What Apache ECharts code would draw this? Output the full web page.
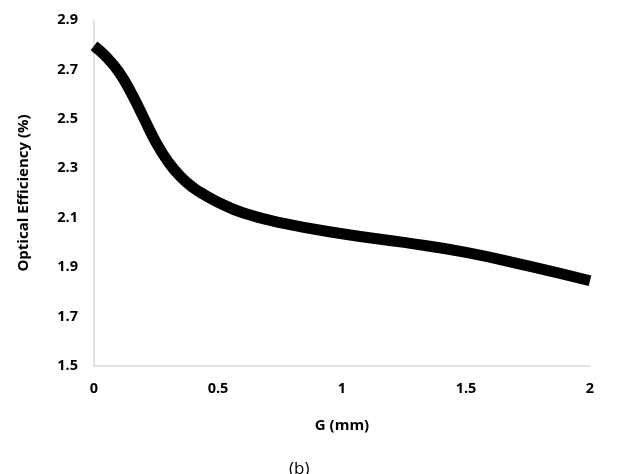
<!DOCTYPE html>
<html>
<head>
<meta charset="utf-8">
<script src="https://cdn.jsdelivr.net/npm/echarts@6/dist/echarts.min.js"></script>
<style>
  html, body { margin: 0; padding: 0; background: #fff; }
  #chart { width: 619px; height: 474px; }
</style>
</head>
<body>
<div id="chart"></div>
<script>
// G (mm) and optical efficiency (%)
var gValues = [0, 0.05, 0.1, 0.15, 0.2, 0.25, 0.3, 0.35, 0.4, 0.45, 0.5, 0.6, 0.75, 1, 1.25, 1.5, 1.75, 2];
var efficiency = [2.795, 2.75, 2.69, 2.605, 2.505, 2.405, 2.325, 2.265, 2.222, 2.19, 2.163, 2.12, 2.08, 2.035, 2.0, 1.96, 1.905, 1.845];
var xTicks = [0, 0.5, 1, 1.5, 2];
var yTicks = [1.5, 1.7, 1.9, 2.1, 2.3, 2.5, 2.7, 2.9];

var points = [];
for (var i = 0; i < gValues.length; i++) {
  points.push([gValues[i], efficiency[i]]);
}

var font = '"Open Sans", sans-serif';
var chart = echarts.init(document.getElementById('chart'));
var option = {
  animation: false,
  grid: { left: 94, right: 29, top: 20, bottom: 108 },
  xAxis: {
    type: 'value',
    min: 0, max: 2, interval: 0.5,
    name: 'G (mm)',
    nameLocation: 'middle',
    nameGap: 52,
    nameTextStyle: { fontFamily: font, fontWeight: 'bold', fontSize: 15, color: '#000' },
    axisLine: { show: true, lineStyle: { color: '#d9d9d9', width: 1.5 } },
    axisTick: { show: false },
    splitLine: { show: false },
    axisLabel: {
      margin: 15,
      fontFamily: font, fontWeight: 'bold', fontSize: 14.5, color: '#000',
      formatter: function (v) { return xTicks.indexOf(v) >= 0 ? String(v) : ''; }
    }
  },
  yAxis: {
    type: 'value',
    min: 1.5, max: 2.9, interval: 0.2,
    name: 'Optical Efficiency (%)',
    nameLocation: 'middle',
    nameGap: 63,
    nameTextStyle: { fontFamily: font, fontWeight: 'bold', fontSize: 15, color: '#000' },
    axisLine: { show: true, lineStyle: { color: '#d9d9d9', width: 1.5 } },
    axisTick: { show: false },
    splitLine: { show: false },
    axisLabel: {
      margin: 16,
      fontFamily: font, fontWeight: 'bold', fontSize: 14.5, color: '#000',
      formatter: function (v) {
        var t = Math.round(v * 10) / 10;
        return yTicks.indexOf(t) >= 0 ? t.toFixed(1) : '';
      }
    }
  },
  series: [{
    type: 'line',
    data: points,
    smooth: 0.5,
    symbol: 'none',
    clip: true,
    lineStyle: { color: '#000', width: 11, cap: 'butt' }
  }],
  graphic: [{
    type: 'text',
    left: 289,
    top: 461,
    style: { text: '(b)', font: '17px ' + font, fill: '#000' }
  }]
};
chart.setOption(option);
</script>
</body>
</html>
